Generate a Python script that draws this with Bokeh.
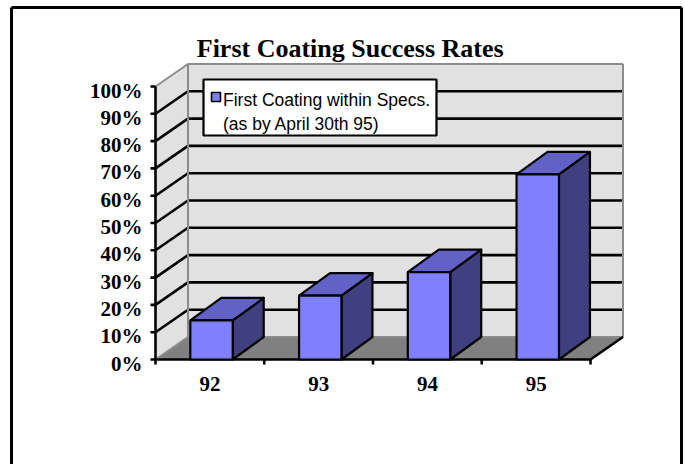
from bokeh.plotting import figure
from bokeh.models import Range1d
from bokeh.embed import file_html
from bokeh.resources import INLINE
from bokeh.core.properties import value

# ---------------- data ----------------
categories = ["92", "93", "94", "95"]
success = [14.3, 23.4, 32.0, 67.8]
y_ticks = [0, 10, 20, 30, 40, 50, 60, 70, 80, 90, 100]
y_tick_labels = [f"{t}%" for t in y_ticks]
title_text = "First Coating Success Rates"
legend_lines = ["First Coating within Specs.", "(as by April 30th 95)"]

# ---------------- layout (pixels) ----------------
W, H = 685, 464
X0, SX = 155.0, 108.75    # px of slot 0, px per slot
Y0, SY = 359.0, 2.73      # px of 0 %, px per %

def X(px):
    return (px - X0) / SX

def Y(py):
    return (Y0 - py) / SY

DX, DY = 32.5 / SX, 22.5 / SY      # wall depth
BDX, BDY = 31.0 / SX, 22.5 / SY    # bar depth
HW = 0.195                         # bar half width (slots)
OFF = 0.015                        # bar offset in slot

n = len(categories)
top = max(y_ticks)

p = figure(width=W, height=H, x_range=Range1d(X(0), X(W)), y_range=Range1d(Y(H), Y(0)),
           output_backend="svg", toolbar_location=None, min_border=0,
           x_axis_location=None, y_axis_location=None)
p.grid.visible = False
p.outline_line_color = None
p.background_fill_color = "white"
p.border_fill_color = "white"

WALL = "#e1e1e1"
FLOOR = "#808080"
EDGE = "#8c8c8c"

# walls and floor
p.patch([0, 0, DX, DX], [0, top, top + DY, DY], fill_color=WALL, line_color=None)
p.patch([DX, n + DX, n + DX, DX], [DY, DY, top + DY, top + DY], fill_color=WALL, line_color=None)
p.patch([0, n, n + DX, DX], [0, 0, DY, DY], fill_color=FLOOR, line_color=None)

# gridlines
grid_vals = [t for t in y_ticks if 0 < t < top]
p.multi_line([[0, DX, n + DX] for _ in grid_vals],
             [[v, v + DY, v + DY] for v in grid_vals],
             line_color="black", line_width=2.6, line_join="miter")

# wall edges
p.multi_line([[0, DX, n + DX], [DX, DX], [n + DX, n + DX], [0, DX], [DX, n + DX]],
             [[top, top + DY, top + DY], [DY, top + DY], [DY, top + DY], [0, DY], [DY, DY]],
             line_color=EDGE, line_width=2)
p.line([n, n + DX], [0, DY], line_color="black", line_width=2.6)

# axes
p.line([0, 0], [0, top], line_color="black", line_width=2.6)
p.line([0, n], [0, 0], line_color="black", line_width=2.6)
p.segment(x0=[-5 / SX] * len(y_ticks), y0=y_ticks, x1=[0] * len(y_ticks), y1=y_ticks,
          line_color="black", line_width=2.6)
p.segment(x0=list(range(n + 1)), y0=[0] * (n + 1), x1=list(range(n + 1)), y1=[-5 / SY] * (n + 1),
          line_color="black", line_width=2.6)

# bars
fx_l, fx_r = [], []
for i, v in enumerate(success):
    xl = i + 0.5 + OFF - HW
    fx_l.append(xl)
    fx_r.append(xl + 2 * HW)

side_xs = [[xr, xr + BDX, xr + BDX, xr] for xr in fx_r]
side_ys = [[0, BDY, v + BDY, v] for v in success]
p.patches(side_xs, side_ys, fill_color="#404080", line_color="black", line_width=2.2, line_join="round")
top_xs = [[xl, xr, xr + BDX, xl + BDX] for xl, xr in zip(fx_l, fx_r)]
top_ys = [[v, v, v + BDY, v + BDY] for v in success]
p.patches(top_xs, top_ys, fill_color="#6262c6", line_color="black", line_width=2.2, line_join="round")
p.quad(left=fx_l, right=fx_r, bottom=[0] * n, top=success,
       fill_color="#8080ff", line_color="black", line_width=2.2)

# tick labels
SERIF = value("Liberation Serif")
p.text(x=[X(142)] * len(y_ticks), y=[t - 4 / SY for t in y_ticks], text=y_tick_labels,
       text_font=SERIF, text_font_style="bold", text_font_size="21px",
       text_align="right", text_baseline="middle", text_color="black")
p.text(x=[i + 0.5 for i in range(n)], y=[Y(383)] * n, text=categories,
       text_font=SERIF, text_font_style="bold", text_font_size="21px",
       text_align="center", text_baseline="middle", text_color="black")

# title
p.text(x=[X(349.7)], y=[Y(48)], text=[title_text], text_font=SERIF, text_font_style="bold",
       text_font_size="26px", text_align="center", text_baseline="alphabetic", text_color="black")

# outer frame
p.multi_line([[X(11), X(11)], [X(11), X(681)], [X(681), X(681)]],
             [[Y(470), Y(7)], [Y(7), Y(7)], [Y(7), Y(470)]],
             line_color="black", line_width=3, line_join="miter")

# legend
p.quad(left=[X(203)], right=[X(436)], top=[Y(79)], bottom=[Y(135)],
       fill_color="white", line_color="black", line_width=2.2)
p.quad(left=[X(211)], right=[X(220)], top=[Y(92)], bottom=[Y(101)],
       fill_color="#8080ff", line_color="black", line_width=1.6)
p.text(x=[X(222.5)] * 2, y=[Y(99.5), Y(123.5)], text=legend_lines,
       text_font=value("Liberation Sans"), text_font_size="17.5px",
       text_align="left", text_baseline="alphabetic", text_color="black")

open("out.html", "w").write(file_html(p, INLINE))
